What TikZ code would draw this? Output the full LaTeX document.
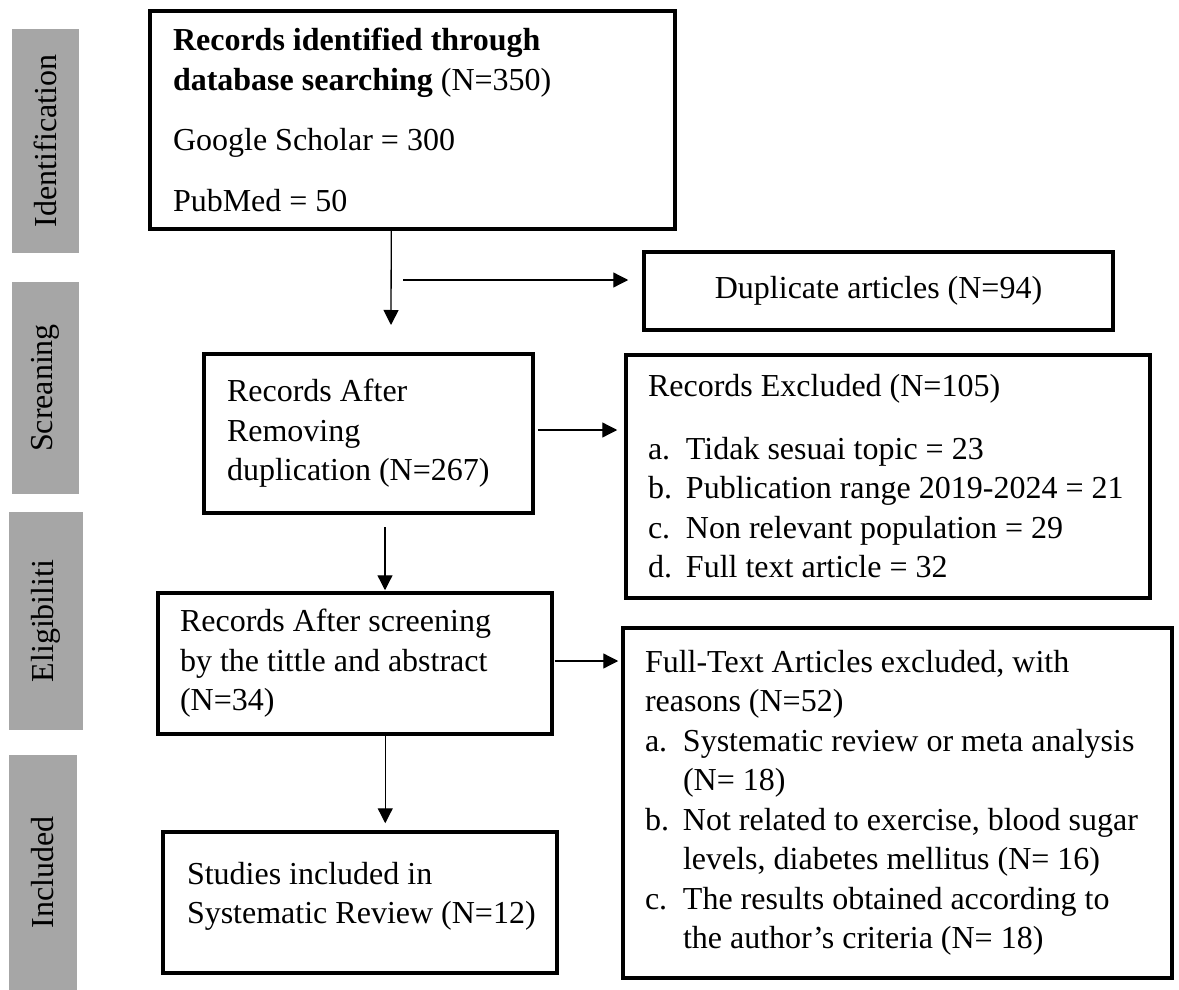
\documentclass[tikz,border=0pt]{standalone}
\usepackage{fontspec}
\setmainfont{Liberation Serif}
\usetikzlibrary{arrows.meta,calc}
\definecolor{bargray}{RGB}{166,166,166}
\newcommand{\Lin}[1]{\mbox{\spaceskip=0pt\xspaceskip=0pt #1}}
\newcommand{\Itm}[2]{\mbox{\spaceskip=0pt\xspaceskip=0pt \makebox[38pt][l]{#1}#2}}
\tikzset{
  box/.style={draw, line width=3.5pt, rectangle, inner sep=0pt,
    font=\fontsize{32}{39.5}\selectfont, align=left},
  phase/.style={fill=bargray, rotate=90, inner sep=0pt,
    font=\fontsize{32}{39.5}\selectfont},
  arr/.style={line width=1.3pt, -{Triangle[length=15pt,width=15pt]}}
}
\begin{document}
\begin{tikzpicture}[x=1pt,y=-1pt]
\useasboundingbox (0,0) rectangle (1179,990);

% phase bars
\node[phase, minimum width=224pt, minimum height=67pt] (p1) at (45.5,141) {Identification};
\node[phase, minimum width=212pt, minimum height=67pt] (p2) at (45.5,388) {Screaning};
\node[phase, minimum width=218pt, minimum height=74pt] (p3) at (46,621) {Eligibiliti};
\node[phase, minimum width=235pt, minimum height=68pt] (p4) at (43,872.5) {Included};

% boxes
\node[box, minimum width=525pt, minimum height=218pt, text width=479pt] (b1) at (412.5,120)
  {\Lin{\textbf{Records identified through}}\\
   \Lin{\textbf{database searching} (N=350)}\\[21pt]
   \Lin{Google Scholar = 300}\\[21pt]
   \Lin{PubMed = 50}};

\node[box, minimum width=469pt, minimum height=78pt, align=center] (dup) at (878.5,291)
  {\raisebox{3pt}{\Lin{Duplicate articles (N=94)}}};

\node[box, minimum width=329pt, minimum height=159pt, text width=283pt] (b2) at (368.5,433.5)
  {\Lin{Records After}\\
   \Lin{Removing}\\
   \Lin{duplication (N=267)}};

\node[box, minimum width=524pt, minimum height=243pt, text width=480pt] (exc) at (888,476.5)
  {\Lin{Records Excluded (N=105)}\\[23pt]
   \Itm{a.}{Tidak sesuai topic = 23}\\
   \Itm{b.}{Publication range 2019-2024 = 21}\\
   \Itm{c.}{Non relevant population = 29}\\
   \Itm{d.}{Full text article = 32}};

\node[box, minimum width=394pt, minimum height=141pt, text width=350pt] (b3) at (355,663.5)
  {\Lin{Records After screening}\\
   \Lin{by the tittle and abstract}\\
   \Lin{(N=34)}};

\node[box, minimum width=549pt, minimum height=350pt, text width=505pt] (ft) at (897.5,803)
  {\Lin{Full-Text Articles excluded, with}\\
   \Lin{reasons (N=52)}\\
   \Itm{a.}{Systematic review or meta analysis}\\
   \Itm{}{(N= 18)}\\
   \Itm{b.}{Not related to exercise, blood sugar}\\
   \Itm{}{levels, diabetes mellitus (N= 16)}\\
   \Itm{c.}{The results obtained according to}\\
   \Itm{}{the author’s criteria (N= 18)}};

\node[box, minimum width=394pt, minimum height=141pt, text width=346pt] (b4) at (360,902.5)
  {\Lin{Studies included in}\\
   \Lin{Systematic Review (N=12)}\\[-20pt]\mbox{}};

% connectors
\coordinate (a1e) at (391,325);
\draw[arr] ([xshift=243pt]b1.south west) -- (a1e);
\coordinate (a2s) at (403,280);
\draw[arr, shorten >=14pt] (a2s) -- (a2s -| dup.west);
\draw[arr, shorten <=3pt, shorten >=7pt] ([yshift=3.5pt]b2.east) -- ([yshift=3.5pt]b2.east -| exc.west);
\coordinate (a4s) at (385,527);
\draw[arr, shorten >=1pt] (a4s) -- (a4s |- b3.north);
\draw[arr, shorten <=1pt, shorten >=3pt] ([yshift=2.5pt]b3.east) -- ([yshift=2.5pt]b3.east -| ft.west);
\draw[arr, shorten >=7pt] ([xshift=229pt]b3.south west) -- ([xshift=224pt]b4.north west);
\end{tikzpicture}
\end{document}
